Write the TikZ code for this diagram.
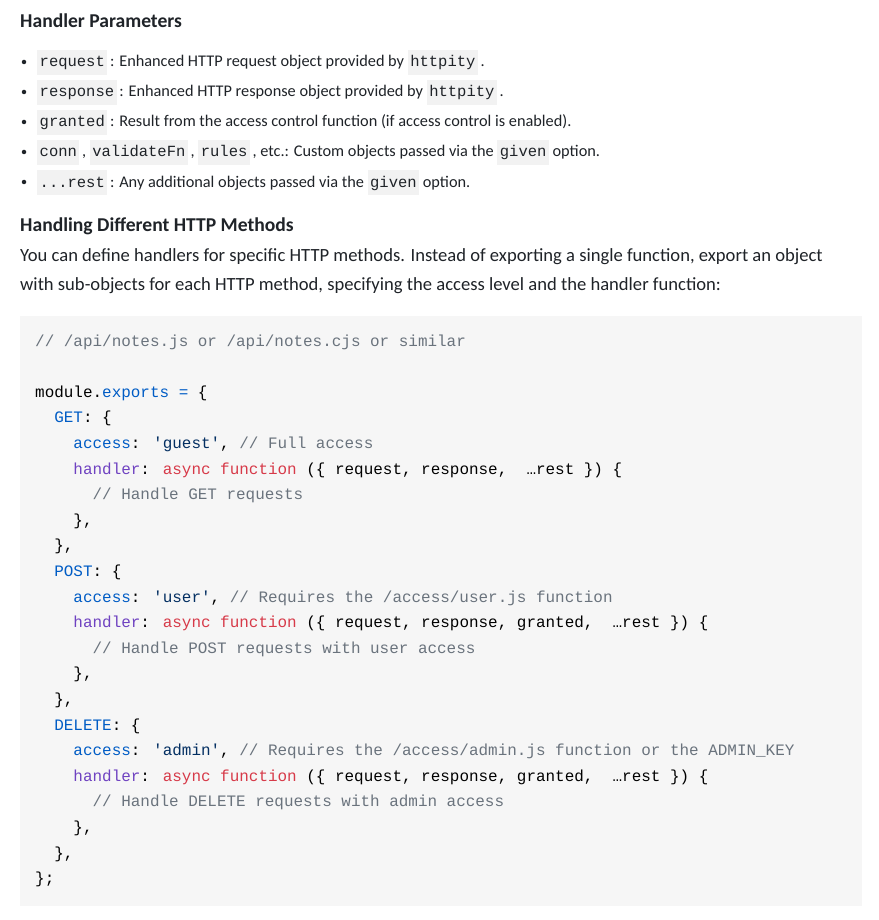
\documentclass[tikz,border=0pt]{standalone}
\usepackage{fontspec}
\setmainfont{Carlito}
\newfontfamily\mono{Liberation Mono}
\definecolor{codebg}{HTML}{F6F6F6}
\definecolor{icbg}{HTML}{F2F2F2}
\definecolor{kblue}{HTML}{005CC5}
\definecolor{kpur}{HTML}{6F42C1}
\definecolor{kred}{HTML}{D73A49}
\definecolor{kstr}{HTML}{032F62}
\definecolor{kcom}{HTML}{6A737D}
\definecolor{txt}{HTML}{1F2328}
\newcommand\ic[1]{{\setlength\fboxsep{2.5pt}\colorbox{icbg}{\strut\mono\fontsize{15.5}{18}\selectfont #1}}}
\newcommand\kb[1]{\textcolor{kblue}{#1}}
\newcommand\kp[1]{\textcolor{kpur}{#1}}
\newcommand\kr[1]{\textcolor{kred}{#1}}
\newcommand\ks[1]{\textcolor{kstr}{#1}}
\newcommand\kc[1]{\textcolor{kcom}{#1}}
\begin{document}
\begin{tikzpicture}[x=1pt,y=-1pt,
  body/.style={anchor=base west,inner sep=0pt,text=txt,font=\fontsize{18.6}{22}\selectfont},
  small/.style={anchor=base west,inner sep=0pt,text=txt,font=\fontsize{16.3}{20}\selectfont},
  head/.style={anchor=base west,inner sep=0pt,text=txt,font=\bfseries\fontsize{19.6}{23}\selectfont},
  bul/.style={circle,fill=txt,inner sep=0pt,minimum size=4.5pt},
  cl/.style={anchor=base west,inner sep=0pt,text=black,font=\mono\fontsize{15.95}{19}\selectfont}]
\useasboundingbox (0,0) rectangle (878,920);
\fill[white] (0,0) rectangle (878,920);
\node[head] (h1) at (20,28) {Handler Parameters};
\foreach \y/\t [count=\i] in {
 67/{\ic{request}\,: Enhanced HTTP request object provided by \ic{httpity}\,.},
 97/{\ic{response}\,: Enhanced HTTP response object provided by \ic{httpity}\,.},
 127/{\ic{granted}\,: Result from the access control function (if access control is enabled).},
 157/{\ic{conn}\,, \ic{validateFn}\,, \ic{rules}\,, etc.: Custom objects passed via the \ic{given} option.},
 187/{\ic{...rest}\,: Any additional objects passed via the \ic{given} option.}}{
  \node[bul] (b\i) at (24,\y-5) {};
  \node[small] (t\i) at (37,\y) {\t};
}
\node[head] (h2) at (20,231) {Handling Different HTTP Methods};
\node[body] (p1) at (20,261) {You can define handlers for specific HTTP methods. Instead of exporting a single function, export an object};
\node[body] (p2) at (20,290) {with sub-objects for each HTTP method, specifying the access level and the handler function:};
\fill[codebg] (20,316) rectangle (862,906);
\def\cx{35}\def\cw{9.57}
\foreach \ln/\ind/\t in {
 1/0/{\kc{// /api/notes.js or /api/notes.cjs or similar}},
 3/0/{module.\kb{exports} \kb{=} \{},
 4/2/{\kb{GET}: \{},
 5/4/{\kb{access}: \ks{'guest'}, \kc{// Full access}},
 6/4/{\kp{handler}: \kr{async} \kr{function} (\{ request, response, \ …rest \}) \{},
 7/6/{\kc{// Handle GET requests}},
 8/4/{\},},
 9/2/{\},},
 10/2/{\kb{POST}: \{},
 11/4/{\kb{access}: \ks{'user'}, \kc{// Requires the /access/user.js function}},
 12/4/{\kp{handler}: \kr{async} \kr{function} (\{ request, response, granted, \ …rest \}) \{},
 13/6/{\kc{// Handle POST requests with user access}},
 14/4/{\},},
 15/2/{\},},
 16/2/{\kb{DELETE}: \{},
 17/4/{\kb{access}: \ks{'admin'}, \kc{// Requires the /access/admin.js function or the ADMIN\_KEY}},
 18/4/{\kp{handler}: \kr{async} \kr{function} (\{ request, response, granted, \ …rest \}) \{},
 19/6/{\kc{// Handle DELETE requests with admin access}},
 20/4/{\},},
 21/2/{\},},
 22/0/{\};}}{
  \node[cl] (c\ln) at ({\cx+\ind*\cw},{346+(\ln-1)*25.6}) {\t};
}
\end{tikzpicture}
\end{document}
